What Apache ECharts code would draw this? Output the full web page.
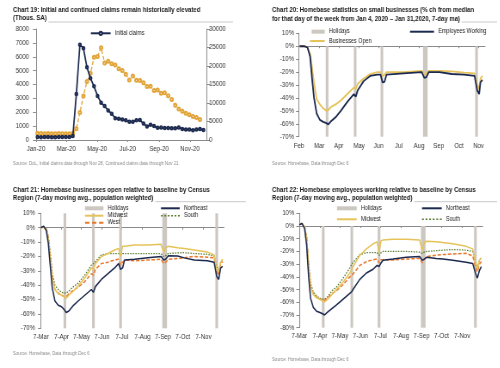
<!DOCTYPE html>
<html><head><meta charset="utf-8">
<script src="https://cdn.jsdelivr.net/npm/echarts@6/dist/echarts.min.js"></script>
<style>html,body{margin:0;padding:0;background:#fff;overflow:hidden;width:500px;height:368px}
#c{width:581.4px;height:368px;transform:scaleX(0.86);transform-origin:0 0}</style>
</head><body><div id="c"></div>
<script>
// ---------- DATA ----------
// Chart 19: weekly claims (thousands, SA)
const claimWeeks = ['2020-01-04','2020-01-11','2020-01-18','2020-01-25','2020-02-01','2020-02-08','2020-02-15','2020-02-22','2020-02-29','2020-03-07','2020-03-14','2020-03-21','2020-03-28','2020-04-04','2020-04-11','2020-04-18','2020-04-25','2020-05-02','2020-05-09','2020-05-16','2020-05-23','2020-05-30','2020-06-06','2020-06-13','2020-06-20','2020-06-27','2020-07-04','2020-07-11','2020-07-18','2020-07-25','2020-08-01','2020-08-08','2020-08-15','2020-08-22','2020-08-29','2020-09-05','2020-09-12','2020-09-19','2020-09-26','2020-10-03','2020-10-10','2020-10-17','2020-10-24','2020-10-31','2020-11-07','2020-11-14','2020-11-21','2020-11-28'];
const initialClaims = [214,207,220,217,204,206,211,220,217,211,282,3307,6867,6615,5237,4442,3867,3176,2687,2446,2123,1897,1566,1540,1482,1427,1314,1307,1422,1434,1186,971,1104,1011,881,893,866,873,849,845,898,787,751,757,711,748,787,712];
const continuedClaims = [1804,1731,1703,1751,1700,1709,1730,1720,1699,1702,1784,3059,7446,11914,15819,18011,22377,22548,24912,20838,21268,20606,20289,19231,18760,17760,16197,17304,16151,16090,15486,14492,14535,13385,13544,12628,12747,11979,10976,9397,8373,7756,7222,6801,6372,6089,5520];
const p1TickDates = ['2020-01-01','2020-03-01','2020-05-01','2020-07-01','2020-09-01','2020-11-01'];
const p1TickLabels = ['Jan-20','Mar-20','May-20','Jul-20','Sep-20','Nov-20'];

// Chart 20: national Homebase (%)
const dates2 = ['2020-03-01','2020-03-08','2020-03-13','2020-03-17','2020-03-20','2020-03-23','2020-03-27','2020-04-01','2020-04-06','2020-04-11','2020-04-14','2020-04-18','2020-04-25','2020-05-03','2020-05-13','2020-05-23','2020-05-26','2020-05-29','2020-06-07','2020-06-17','2020-06-28','2020-07-03','2020-07-06','2020-07-09','2020-07-12','2020-08-07','2020-09-04','2020-09-08','2020-09-11','2020-09-15','2020-10-01','2020-10-20','2020-11-08','2020-11-24','2020-11-28','2020-12-01','2020-12-03','2020-12-06'];
const employees2 = [0,0,-1,-8,-25,-40,-52,-57,-58.5,-59.5,-60.5,-58,-55,-50,-43,-37,-39,-34,-27,-23,-22,-22,-28,-27.5,-22,-21,-20,-24.5,-24,-20,-20,-21.5,-22,-23,-34,-37,-28,-26];
const business2 = [0,0,-1,-6,-17,-28,-41,-45,-48,-50,-49.5,-47,-45,-42,-37,-32,-33,-29,-25,-21.5,-20,-20,-23,-22,-20,-20,-19,-22,-21,-19,-19,-19.5,-20.5,-21,-30,-33,-25,-23];
const p2TickDates = ['2020-02-29','2020-03-31','2020-04-30','2020-05-31','2020-06-30','2020-07-31','2020-08-31','2020-09-30','2020-10-31','2020-11-30'];
const p2TickLabels = ['Feb','Mar','Apr','May','Jun','Jul','Aug','Sep','Oct','Nov'];

// Holidays
const holStart = ['2020-04-10','2020-05-23','2020-07-03','2020-09-06','2020-11-25'];
const holEnd   = ['2020-04-14','2020-05-27','2020-07-07','2020-09-13','2020-11-29'];

// Charts 21/22: regional (%)
const dates3 = ['2020-03-07','2020-03-11','2020-03-15','2020-03-18','2020-03-21','2020-03-24','2020-03-28','2020-04-02','2020-04-07','2020-04-11','2020-04-14','2020-04-18','2020-04-25','2020-05-02','2020-05-12','2020-05-22','2020-05-25','2020-05-28','2020-06-06','2020-06-16','2020-06-26','2020-07-02','2020-07-05','2020-07-08','2020-07-11','2020-07-26','2020-08-15','2020-09-04','2020-09-08','2020-09-11','2020-09-15','2020-09-29','2020-10-09','2020-10-24','2020-11-13','2020-11-23','2020-11-27','2020-11-30','2020-12-03','2020-12-06'];
const ne3 = [0,1,-2,-11,-27,-42,-51,-54,-55,-57,-59,-58,-54,-51,-47,-43,-45,-41,-36,-32,-28,-25,-29,-28,-22.5,-22,-21,-20,-22.5,-22,-19.5,-19.7,-21,-22.5,-23,-24,-34,-36,-28,-27];
const mw3 = [0,0.5,-1,-8.5,-22,-35,-43,-46,-47,-48,-49,-47,-44,-40.5,-35,-28,-29,-25,-20,-18,-15.5,-14.4,-20,-13,-13,-12,-12,-11.6,-17,-14,-13,-14,-14.5,-15.5,-17,-19,-29,-30.5,-24,-22];
const so3 = [0,0.5,-1,-6,-18,-32,-40,-43,-45,-45.5,-45.6,-44,-41,-38.6,-33,-26,-25,-23.6,-19,-18,-18,-18,-19,-18,-18,-18,-18,-18,-20,-19.5,-18,-17.5,-17.4,-18,-18.5,-19.7,-27,-30,-24,-22];
const we3 = [0,0.5,-1,-7,-20,-34,-43,-45.6,-47,-48,-48,-46,-43.5,-41.4,-37.5,-32,-33,-29,-25,-24,-22.5,-22,-26,-24,-22.5,-23,-22.5,-22,-25,-24,-22,-21.5,-21,-20,-20.6,-21,-30.5,-33,-25,-23.6];
const ne4 = [1,2,-2,-15,-40,-57,-64,-67,-68,-69,-70,-68,-65,-62,-57.5,-53,-51.5,-49,-42,-37,-34,-31,-32,-29,-27,-26,-24.5,-24,-27,-26,-24.5,-25.5,-26,-27,-28.5,-29.5,-37,-41,-35,-32];
const mw4 = [1,2,-1,-10,-32,-48,-54,-56.5,-57.7,-59,-59.6,-58,-54,-50,-44,-37,-34,-31,-23,-18,-14,-12.5,-21,-11.5,-11,-10.5,-10.5,-11,-19,-13,-12,-12.3,-13,-14,-16,-18,-29,-34,-27,-25];
const so4 = [1,2,-1,-8,-29,-45,-52,-55,-57,-57.5,-57.7,-56,-51,-48,-41,-33,-30,-28,-22.5,-21,-21,-21,-23,-21,-20,-20,-20,-20.5,-21.5,-20.5,-20,-19.4,-19,-18.5,-19,-20,-28,-33,-27,-25];
const we4 = [1,2,-1,-9,-32,-48,-53,-56,-57.5,-58,-58.5,-57,-53,-51,-46,-40,-39,-37,-31,-28,-26.5,-26,-29,-26.5,-26.5,-26.8,-26,-25.5,-29,-26,-24,-23,-22.5,-22,-21.5,-23.5,-32,-36,-30,-28];
const p3TickDates = ['2020-03-07','2020-04-07','2020-05-07','2020-06-07','2020-07-07','2020-08-07','2020-09-07','2020-10-07','2020-11-07'];
const p3TickLabels = ['7-Mar','7-Apr','7-May','7-Jun','7-Jul','7-Aug','7-Sep','7-Oct','7-Nov'];

// ---------- STYLE ----------
const SX = 0.86;               // horizontal squeeze applied to the whole drawing (narrow type)
const X = v => v / SX;         // convert target-page x to drawing x
const FONT = "'Liberation Sans',Arial,sans-serif";
const NAVY='#1d2a50', GOLD='#e6c35a', CLAIMGOLD='#e2a53a', GREEN='#54792a', ORANGE='#e9782c', HOL='#ccc7c1', AXIS='#8a8a8a', TXT='#333';
const ICON_SOLID = 'path://M0,0H22V2H0Z';
const ICON_DASH = 'path://M0,0H5V2H0Z M8,0H13V2H8Z M16,0H21V2H16Z';
const ICON_DOT = 'path://M0,0H2V2H0Z M4,0H6V2H4Z M8,0H10V2H8Z M12,0H14V2H12Z M16,0H18V2H16Z M20,0H22V2H20Z';

function ts(s){ return Date.parse(s + 'T00:00:00Z'); }
function pairs(d, v){ return v.map((y,i)=>[ts(d[i]), y]); }
function lbl(extra){ return Object.assign({fontFamily:FONT, fontSize:7, color:TXT}, extra); }
function finder(vals, labels){ return v => { for (let i=0;i<vals.length;i++){ if (Math.abs(vals[i]-v)<3600000) return labels[i]; } return ''; }; }

function timeAxes(grid, min, max, tickDates, tickLabels, margin, zeroLine){
  const vals = tickDates.map(ts);
  const fmt = finder(vals, tickLabels);
  if (!zeroLine) {
    return [{type:'value', gridIndex:grid, position:'bottom', min:ts(min), max:ts(max),
      axisLine:{show:true, onZero:false, lineStyle:{color:AXIS}},
      axisTick:{show:true, length:2, lineStyle:{color:AXIS}, customValues:vals},
      axisLabel:lbl({margin, customValues:vals, formatter:fmt, hideOverlap:false}), splitLine:{show:false}}];
  }
  return [
    {type:'value', gridIndex:grid, position:'bottom', min:ts(min), max:ts(max),
      axisLine:{show:true, onZero:true, lineStyle:{color:AXIS}},
      axisTick:{show:true, length:2, lineStyle:{color:AXIS}, customValues:vals},
      axisLabel:{show:false}, splitLine:{show:false}},
    {type:'value', gridIndex:grid, position:'bottom', min:ts(min), max:ts(max),
      axisLine:{show:false, onZero:false}, axisTick:{show:false},
      axisLabel:lbl({margin, customValues:vals, formatter:fmt, hideOverlap:false}), splitLine:{show:false}}
  ];
}
function yAx(grid, min, max, interval, fmt, margin, pos){
  return {type:'value', gridIndex:grid, min, max, interval, position:pos||'left',
    axisLine:{show:true, lineStyle:{color:AXIS}}, axisTick:{show:true, length:X(3), lineStyle:{color:AXIS}},
    axisLabel:lbl({margin:X(margin), formatter:fmt}), splitLine:{show:false}};
}
function lineS(name, xi, yi, dates, vals, color, type, width){
  return {type:'line', name, xAxisIndex:xi, yAxisIndex:yi, data:pairs(dates, vals), symbol:'none', showSymbol:false, z:3,
    lineStyle:{color, width:width||1.6, type:type||'solid'}, itemStyle:{color}};
}
function holidaySeries(name, xi, yi, fromZero){
  return {type:'custom', name, xAxisIndex:xi, yAxisIndex:yi, z:1, silent:true,
    encode:{x:[0,1]},
    data: holStart.map((s,i)=>[ts(s), ts(holEnd[i])]),
    itemStyle:{color:HOL},
    renderItem:(params, api)=>{
      const cs = params.coordSys;
      const a = api.coord([api.value(0), 0]);
      const b = api.coord([api.value(1), 0]);
      const yTop = fromZero ? a[1] : cs.y;
      return {type:'rect', shape:{x:a[0], y:yTop, width:Math.max(1,b[0]-a[0]), height:cs.y+cs.height-yTop}, style:{fill:HOL}};
    }};
}
function leg(item, left, top, w, h){
  return {show:true, left:X(left), top, padding:0, itemGap:0, itemWidth:X(w), itemHeight:h, selectedMode:false,
    symbolKeepAspect:false, data:[item], formatter:n=>n.split('|')[0],
    textStyle:{fontFamily:FONT, fontSize:6.3, color:'#222', lineHeight:8}};
}
function txt(x, y, text, size, weight, color, mask){
  const st = {text, font:`${weight} ${size}px ${FONT}`, fill:color, verticalAlign:'middle', align:'left'};
  if (mask) { st.backgroundColor = '#fff'; st.padding = [1,2,2,0]; }
  return {type:'text', x:X(x), y, z:100, style:st};
}
function rule(x1, x2, y){
  return {type:'line', z:50, shape:{x1:X(x1), y1:y, x2:X(x2), y2:y}, style:{stroke:'#c9c9c9', lineWidth:1}};
}

const pct = v => v + '%';
const plain = v => String(v);

const chart = echarts.init(document.getElementById('c'));
const option = {
  animation:false,
  backgroundColor:'#fff',
  grid:[
    {left:X(36), top:29, width:X(171), height:111},
    {left:X(299), top:33.3, width:X(186), height:103.4},
    {left:X(41), top:213.3, width:X(183), height:115},
    {left:X(299.3), top:213.3, width:X(183.4), height:114.4}
  ],
  xAxis:[].concat(
    timeAxes(0, '2020-01-01', '2020-12-05', p1TickDates, p1TickLabels, 6, false),
    timeAxes(1, '2020-02-29', '2020-12-10', p2TickDates, p2TickLabels, 6, true),
    timeAxes(2, '2020-03-07', '2020-12-08', p3TickDates, p3TickLabels, 5, true),
    timeAxes(3, '2020-03-07', '2020-12-08', p3TickDates, p3TickLabels, 5, true)
  ),
  yAxis:[
    yAx(0, 0, 8000, 1000, plain, 7),
    yAx(0, 0, 30000, 5000, plain, 2, 'right'),
    yAx(1, -70, 10, 10, pct, 5),
    yAx(2, -70, 10, 10, pct, 6),
    yAx(3, -80, 10, 10, pct, 5)
  ],
  legend:[
    leg('Initial claims', 90, 29.3, 19.7, 4),
    leg({name:'Holidays|2', icon:'rect'}, 311.7, 27.7, 13, 4),
    leg({name:'Employees Working|2', icon:ICON_SOLID}, 410, 27.7, 24, 2),
    leg({name:'Businesses Open|2', icon:ICON_SOLID}, 310, 37, 14.7, 2),
    leg({name:'Holidays|3', icon:'rect'}, 85, 204.3, 18.4, 4),
    leg({name:'Northeast|3', icon:ICON_SOLID}, 161, 204.3, 18.7, 2),
    leg({name:'Midwest|3', icon:ICON_SOLID}, 85, 211.7, 18.4, 2),
    leg({name:'South|3', icon:ICON_DOT}, 161, 211.7, 18.7, 1.6),
    leg({name:'West|3', icon:ICON_DASH}, 85, 218.7, 18.4, 2),
    leg({name:'Holidays|4', icon:'rect'}, 337, 204.3, 19.7, 4),
    leg({name:'Northeast|4', icon:ICON_SOLID}, 422, 204.3, 19.7, 2),
    leg({name:'Midwest|4', icon:ICON_SOLID}, 337, 215.3, 19.7, 2),
    leg({name:'South|4', icon:ICON_DOT}, 422, 215.3, 19.7, 1.6)
  ],
  series:[
    {type:'line', name:'Continued claims', xAxisIndex:0, yAxisIndex:1, data:pairs(claimWeeks, continuedClaims),
      symbol:'emptyCircle', symbolSize:3, showSymbol:true, z:3,
      lineStyle:{color:CLAIMGOLD, width:1.3, type:[4,2]}, itemStyle:{color:CLAIMGOLD, borderWidth:1}},
    {type:'line', name:'Initial claims', xAxisIndex:0, yAxisIndex:0, data:pairs(claimWeeks, initialClaims),
      symbol:'emptyCircle', symbolSize:2.5, showSymbol:true, z:4,
      lineStyle:{color:NAVY, width:1.7}, itemStyle:{color:NAVY, borderWidth:1}},

    holidaySeries('Holidays|2', 1, 2, true),
    lineS('Businesses Open|2', 1, 2, dates2, business2, GOLD, 'solid', 1.8),
    lineS('Employees Working|2', 1, 2, dates2, employees2, NAVY, 'solid', 1.8),

    holidaySeries('Holidays|3', 3, 3, false),
    lineS('South|3', 3, 3, dates3, so3, GREEN, [1.5,1.5], 1.3),
    lineS('West|3', 3, 3, dates3, we3, ORANGE, [4,2], 1.5),
    lineS('Midwest|3', 3, 3, dates3, mw3, GOLD, 'solid', 1.5),
    lineS('Northeast|3', 3, 3, dates3, ne3, NAVY, 'solid', 1.5),

    holidaySeries('Holidays|4', 5, 4, true),
    lineS('South|4', 5, 4, dates3, so4, GREEN, [1.5,1.5], 1.3),
    lineS('West|4', 5, 4, dates3, we4, ORANGE, [4,2], 1.5),
    lineS('Midwest|4', 5, 4, dates3, mw4, GOLD, 'solid', 1.5),
    lineS('Northeast|4', 5, 4, dates3, ne4, NAVY, 'solid', 1.5)
  ],
  graphic:[
    rule(13, 233, 22),
    rule(272, 497, 22),
    rule(13, 246, 201.7),
    rule(272, 497, 201.7),
    txt(13, 9.7, 'Chart 19: Initial and continued claims remain historically elevated', 7, 'bold', '#1a1a1a'),
    txt(13, 18.3, '(Thous. SA)', 7, 'bold', '#1a1a1a', true),
    txt(272, 10, 'Chart 20: Homebase statistics on small businesses (% ch from median', 7, 'bold', '#1a1a1a'),
    txt(272, 18.8, 'for that day of the week from Jan 4, 2020 \u2013 Jan 31,2020, 7-day ma)', 7, 'bold', '#1a1a1a', true),
    txt(13, 190, 'Chart 21: Homebase businesses open relative to baseline by Census', 7, 'bold', '#1a1a1a'),
    txt(13, 198, 'Region (7-day moving avg., population weighted)', 7, 'bold', '#1a1a1a', true),
    txt(272, 190, 'Chart 22: Homebase employees working relative to baseline by Census', 7, 'bold', '#1a1a1a'),
    txt(272, 198.3, 'Region (7-day moving avg., population weighted)', 7, 'bold', '#1a1a1a', true),
    txt(13, 163.3, 'Source: DoL, Initial claims data through Nov 28, Continued claims data through Nov 21', 5, 'normal', '#8a8a8a'),
    txt(272, 163.3, 'Source: Homebase, Data through Dec 6', 5, 'normal', '#8a8a8a'),
    txt(13, 353.3, 'Source: Homebase, Data through Dec 6', 5, 'normal', '#8a8a8a'),
    txt(272, 360, 'Source: Homebase, Data through Dec 6', 5, 'normal', '#8a8a8a')
  ]
};
chart.setOption(option);
</script></body></html>
